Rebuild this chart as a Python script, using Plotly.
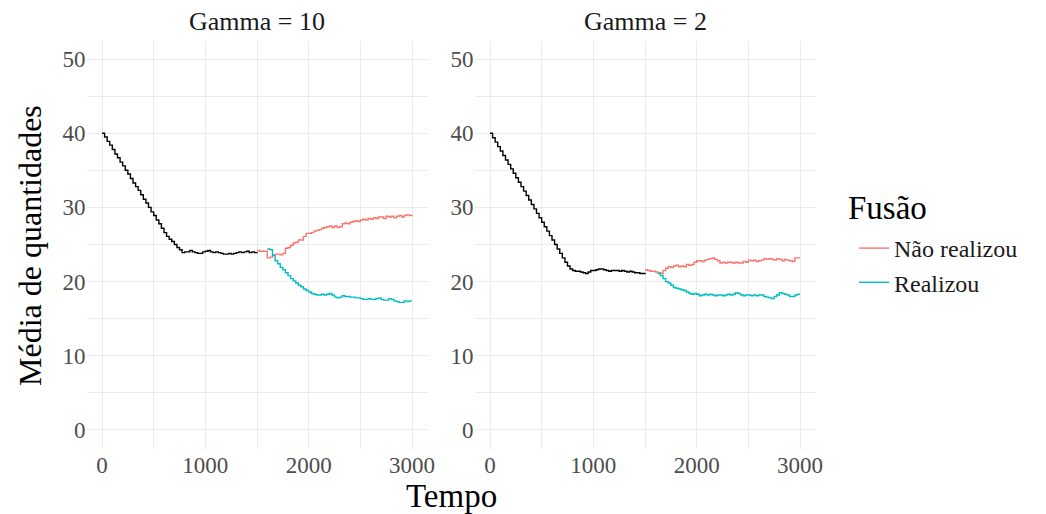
import plotly.graph_objects as go

STEP = 25

# ---- Gamma = 10 ----
g10_before = [40.0, 39.5, 38.9, 38.4, 37.8, 37.2, 36.7, 36.1, 35.6, 35.0,
              34.5, 33.9, 33.3, 32.8, 32.3, 31.7, 31.1, 30.6, 30.0, 29.4,
              28.9, 28.3, 27.8, 27.2, 26.6, 26.1, 25.7, 25.4, 25.0, 24.6,
              24.3, 23.9, 24.0, 24.0, 24.2, 24.0, 23.9, 23.8, 23.8, 24.0,
              24.1, 24.2, 24.0, 23.9, 24.0, 23.9, 23.8, 23.7, 23.7, 23.8,
              23.7, 23.8, 23.9, 24.0, 23.9, 24.0, 24.1, 23.9, 24.0, 23.9,
              24.0]
g10_nao = [24.2, 24.1, 24.1, 24.1, 23.2, 23.3, 23.6, 23.7, 23.7, 23.6,
           23.8, 24.5, 24.6, 24.9, 25.2, 25.3, 25.6, 25.6, 26.1, 26.5,
           26.5, 26.6, 26.8, 26.9, 27.0, 27.2, 27.3, 27.4, 27.5, 27.3,
           27.5, 27.3, 27.4, 27.8, 27.9, 27.8, 28.0, 28.1, 28.2, 28.1,
           28.3, 28.4, 28.3, 28.5, 28.4, 28.6, 28.5, 28.7, 28.7, 28.5,
           28.8, 28.7, 28.8, 28.6, 28.8, 28.9, 28.7, 28.9, 29.0, 28.9,
           28.8]
g10_real = [24.4, 24.3, 23.5, 22.8, 22.4, 21.9, 21.6, 21.2, 20.8, 20.4,
            20.1, 19.8, 19.5, 19.3, 19.0, 18.8, 18.6, 18.4, 18.3, 18.2,
            18.2, 18.3, 18.2, 18.3, 18.4, 18.2, 17.9, 17.8, 17.9, 18.1,
            18.0, 18.0, 17.9, 17.9, 17.8, 17.8, 17.7, 17.6, 17.6, 17.7,
            17.6, 17.6, 17.7, 17.8, 17.6, 17.5, 17.5, 17.7, 17.6, 17.4,
            17.3, 17.2, 17.2, 17.4, 17.3, 17.4, 17.4]

# ---- Gamma = 2 ----
g2_before = [40.0, 39.4, 38.8, 38.2, 37.6, 37.0, 36.4, 35.8, 35.2, 34.6,
             34.0, 33.4, 32.8, 32.2, 31.6, 31.0, 30.4, 29.8, 29.2, 28.6,
             28.0, 27.4, 26.8, 26.2, 25.6, 25.0, 24.4, 23.8, 23.2, 22.6,
             22.1, 21.7, 21.5, 21.4, 21.4, 21.3, 21.2, 21.1, 21.3, 21.5,
             21.5, 21.6, 21.7, 21.7, 21.6, 21.5, 21.4, 21.5, 21.5, 21.5,
             21.4, 21.5, 21.4, 21.3, 21.4, 21.3, 21.2, 21.2, 21.1, 21.1,
             21.0]
g2_nao = [21.6, 21.5, 21.4, 21.4, 21.3, 21.2, 21.1, 21.5, 21.8, 22.0,
          21.9, 22.1, 22.2, 22.0, 22.1, 22.0, 22.3, 22.2, 22.3, 22.6,
          22.8, 22.8, 22.7, 22.9, 23.0, 23.1, 23.2, 23.0, 22.8, 22.5,
          22.6, 22.5, 22.6, 22.6, 22.5, 22.6, 22.5, 22.5, 22.7, 22.6,
          22.9, 22.8, 22.9, 22.7, 22.8, 22.9, 23.1, 23.0, 23.1, 23.0,
          22.9, 23.1, 23.0, 22.8, 23.0, 22.9, 22.8, 22.7, 23.2, 23.2,
          23.2]
g2_real = [21.1, 20.8, 20.4, 20.0, 19.8, 19.5, 19.2, 19.1, 19.0, 18.9,
           18.8, 18.6, 18.4, 18.3, 18.4, 18.3, 18.1, 18.2, 18.3, 18.2,
           18.3, 18.2, 18.1, 18.2, 18.2, 18.1, 18.2, 18.3, 18.2, 18.3,
           18.5, 18.4, 18.2, 18.1, 18.2, 18.2, 18.1, 18.2, 18.1, 18.2,
           18.2, 18.0, 17.9, 17.8, 17.7, 18.0, 18.2, 18.5, 18.4, 18.3,
           18.2, 18.0, 18.0, 18.2, 18.3, 18.3]

start_before = 0
start_nao = 1500
g10_real_start = 1600
g2_real_start = 1625

panels = ["Gamma = 10", "Gamma = 2"]
legend_title = "Fusão"
legend_names = ["Não realizou", "Realizou"]
colors = {"Não realizou": "#F8766D", "Realizou": "#00BFC4"}
x_ticks = [0, 1000, 2000, 3000]
y_ticks = [0, 10, 20, 30, 40, 50]


def times(start, vals):
    return [start + STEP * i for i in range(len(vals))]


FONT = "Liberation Serif"
fig = go.Figure()

series = [
    (1, g10_before, start_before, g10_nao, start_nao, g10_real, g10_real_start),
    (2, g2_before, start_before, g2_nao, start_nao, g2_real, g2_real_start),
]
for idx, bef, sb, nao, sn, real, sr in series:
    xa = "x" if idx == 1 else "x2"
    ya = "y" if idx == 1 else "y2"
    fig.add_trace(go.Scatter(x=times(sb, bef), y=bef, mode="lines",
                             line=dict(color="black", width=1.4, shape="hv"),
                             showlegend=False, xaxis=xa, yaxis=ya))
    fig.add_trace(go.Scatter(x=times(sn, nao), y=nao, mode="lines",
                             name=legend_names[0], legendgroup=legend_names[0],
                             line=dict(color=colors[legend_names[0]], width=1.4, shape="hv"),
                             showlegend=(idx == 1), xaxis=xa, yaxis=ya))
    fig.add_trace(go.Scatter(x=times(sr, real), y=real, mode="lines",
                             name=legend_names[1], legendgroup=legend_names[1],
                             line=dict(color=colors[legend_names[1]], width=1.4, shape="hv"),
                             showlegend=(idx == 1), xaxis=xa, yaxis=ya))

# page body has an 8px margin: figure is drawn 8px right/down
OFF = 8
W, H = 1046 - OFF, 514 - OFF


def fx(px):
    return (px - OFF) / W


def fy(py):
    return 1 - (py - OFF) / H


px_x1 = (fx(86.5), fx(427.5))
px_x2 = (fx(474.5), fx(815.5))
dom_y = (fy(448.5), fy(40.5))

grid = "#EBEBEB"
xcommon = dict(range=[-150, 3150], tickvals=x_ticks, showgrid=True, gridcolor=grid,
               gridwidth=1.2, zeroline=False, showline=False, ticks="",
               automargin=False,
               tickfont=dict(family=FONT, size=23, color="#4D4D4D"),
               minor=dict(tickvals=[500, 1500, 2500], showgrid=True,
                          gridcolor=grid, gridwidth=0.6))
ycommon = dict(range=[-2.5, 52.5], tickvals=y_ticks, showgrid=True, gridcolor=grid,
               gridwidth=1.2, zeroline=False, showline=False, ticks="",
               automargin=False,
               tickfont=dict(family=FONT, size=23, color="#4D4D4D"),
               minor=dict(tickvals=[5, 15, 25, 35, 45], showgrid=True,
                          gridcolor=grid, gridwidth=0.6))

fig.update_layout(
    width=W, height=H,
    margin=dict(l=0, r=0, t=0, b=0, autoexpand=False),
    paper_bgcolor="white", plot_bgcolor="white",
    font=dict(family=FONT, color="black"),
    xaxis=dict(domain=list(px_x1), anchor="y", **xcommon),
    yaxis=dict(domain=list(dom_y), anchor="x", **ycommon),
    xaxis2=dict(domain=list(px_x2), anchor="y2", **xcommon),
    yaxis2=dict(domain=list(dom_y), anchor="x2", **ycommon),
    legend=dict(x=fx(854), y=fy(226), xanchor="left", yanchor="top",
                font=dict(family=FONT, size=24, color="#1A1A1A"), tracegroupgap=0,
                bgcolor="rgba(0,0,0,0)"),
    showlegend=True,
)

annotations = [
    dict(text=panels[0], x=(px_x1[0] + px_x1[1]) / 2, y=fy(22), xref="paper", yref="paper",
         xanchor="center", yanchor="middle",
         showarrow=False, font=dict(family=FONT, size=26, color="#1A1A1A")),
    dict(text=panels[1], x=(px_x2[0] + px_x2[1]) / 2, y=fy(22), xref="paper", yref="paper",
         xanchor="center", yanchor="middle",
         showarrow=False, font=dict(family=FONT, size=26, color="#1A1A1A")),
    dict(text="Tempo", x=(px_x1[0] + px_x2[1]) / 2, y=fy(496), xref="paper", yref="paper",
         xanchor="center", yanchor="middle",
         showarrow=False, font=dict(family=FONT, size=33, color="black")),
    dict(text="Média de quantidades", x=fx(30), y=fy(246), xref="paper", yref="paper",
         xanchor="center", yanchor="middle",
         showarrow=False, textangle=-90, font=dict(family=FONT, size=32, color="black")),
    dict(text=legend_title, x=fx(846), y=fy(208), xref="paper", yref="paper",
         xanchor="left", yanchor="middle",
         showarrow=False, font=dict(family=FONT, size=33, color="black")),
]
fig.update_layout(annotations=annotations)

fig.write_html("out.html")
